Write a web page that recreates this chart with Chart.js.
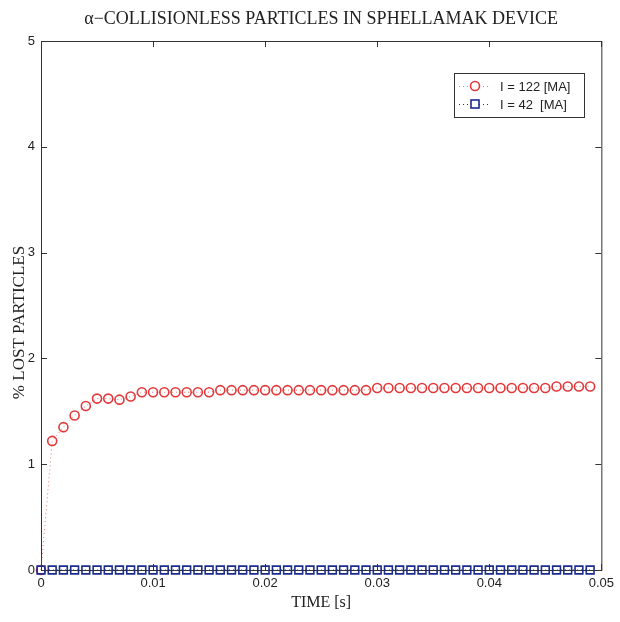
<!DOCTYPE html>
<html>
<head>
    <title>Collisionless particles in Sphellamak device</title>
    <script src="https://cdn.jsdelivr.net/npm/chart.js"></script>
    <style>
        body { margin: 0; background: #fff; }
    </style>
</head>
<body>
    <canvas id="myChart" width="620" height="622"></canvas>
    <script>
        // time samples [s]
        const timeValues = [
            0, 0.001, 0.002, 0.003, 0.004, 0.005, 0.006, 0.007, 0.008, 0.009,
            0.010, 0.011, 0.012, 0.013, 0.014, 0.015, 0.016, 0.017, 0.018, 0.019,
            0.020, 0.021, 0.022, 0.023, 0.024, 0.025, 0.026, 0.027, 0.028, 0.029,
            0.030, 0.031, 0.032, 0.033, 0.034, 0.035, 0.036, 0.037, 0.038, 0.039,
            0.040, 0.041, 0.042, 0.043, 0.044, 0.045, 0.046, 0.047, 0.048, 0.049
        ];
        // % lost particles, I = 122 MA
        const lost122 = [
            0, 1.22, 1.35, 1.46, 1.55, 1.62, 1.62, 1.61, 1.64, 1.68,
            1.68, 1.68, 1.68, 1.68, 1.68, 1.68, 1.70, 1.70, 1.70, 1.70,
            1.70, 1.70, 1.70, 1.70, 1.70, 1.70, 1.70, 1.70, 1.70, 1.70,
            1.72, 1.72, 1.72, 1.72, 1.72, 1.72, 1.72, 1.72, 1.72, 1.72,
            1.72, 1.72, 1.72, 1.72, 1.72, 1.72, 1.735, 1.735, 1.735, 1.735
        ];
        // % lost particles, I = 42 MA
        const lost42 = [
            0, 0, 0, 0, 0, 0, 0, 0, 0, 0,
            0, 0, 0, 0, 0, 0, 0, 0, 0, 0,
            0, 0, 0, 0, 0, 0, 0, 0, 0, 0,
            0, 0, 0, 0, 0, 0, 0, 0, 0, 0,
            0, 0, 0, 0, 0, 0, 0, 0, 0, 0
        ];
        const seriesLabels = ['I = 122 [MA]', 'I = 42  [MA]'];
        const xTickLabels = ['0', '0.01', '0.02', '0.03', '0.04', '0.05'];
        const yTickLabels = ['0', '1', '2', '3', '4', '5'];
        const yTitle = '% LOST PARTICLES';

        const RED = '#e2383a';
        const BLUE = '#1c2c8c';
        const tickFont = { family: 'Liberation Sans, Arial, sans-serif', size: 13 };
        const serif = 'Liberation Serif, Times New Roman, serif';

        // matlab-like box with inward ticks on all four sides
        const boxFrame = {
            id: 'boxFrame',
            beforeDatasetsDraw(chart) {
                const { ctx, chartArea: a, scales } = chart;
                ctx.save();
                ctx.strokeStyle = '#333';
                ctx.lineWidth = 1;
                ctx.strokeRect(a.left + 0.5, a.top + 0.5, a.right - a.left, a.bottom - a.top);
                ctx.beginPath();
                scales.x.ticks.forEach(t => {
                    const px = Math.round(scales.x.getPixelForValue(t.value)) + 0.5;
                    ctx.moveTo(px, a.bottom); ctx.lineTo(px, a.bottom - 6);
                    ctx.moveTo(px, a.top); ctx.lineTo(px, a.top + 6);
                });
                scales.y.ticks.forEach(t => {
                    const py = Math.round(scales.y.getPixelForValue(t.value)) + 0.5;
                    ctx.moveTo(a.left, py); ctx.lineTo(a.left + 6, py);
                    ctx.moveTo(a.right, py); ctx.lineTo(a.right - 6, py);
                });
                ctx.stroke();

                // y axis title, sits a little below the middle of the axis
                ctx.translate(20, (a.top + a.bottom) / 2 + 17);
                ctx.rotate(-Math.PI / 2);
                ctx.fillStyle = '#222';
                ctx.font = '17px ' + serif;
                ctx.textAlign = 'center';
                ctx.textBaseline = 'middle';
                ctx.fillText(yTitle, 0, 0);
                ctx.restore();
            }
        };

        // legend box in the upper right corner of the plot
        const boxLegend = {
            id: 'boxLegend',
            afterDraw(chart) {
                const { ctx } = chart;
                const x0 = 454, y0 = 73, w = 130, h = 44;
                ctx.save();
                ctx.fillStyle = '#fff';
                ctx.fillRect(x0, y0, w, h);
                ctx.strokeStyle = '#333';
                ctx.lineWidth = 1;
                ctx.strokeRect(x0 + 0.5, y0 + 0.5, w, h);
                chart.data.datasets.forEach((ds, i) => {
                    const y = y0 + 13 + i * 18;
                    ctx.strokeStyle = ds.borderColor;
                    ctx.setLineDash([1, 3]);
                    ctx.beginPath();
                    ctx.moveTo(x0 + 5, y + 0.5);
                    ctx.lineTo(x0 + 37, y + 0.5);
                    ctx.stroke();
                    ctx.setLineDash([]);
                    ctx.fillStyle = '#fff';
                    ctx.lineWidth = 1.6;
                    ctx.strokeStyle = ds.pointBorderColor;
                    if (ds.pointStyle === 'rect') {
                        ctx.fillRect(x0 + 17, y - 4, 8, 8);
                        ctx.strokeRect(x0 + 17, y - 4, 8, 8);
                    } else {
                        ctx.beginPath();
                        ctx.arc(x0 + 21, y, 4.5, 0, Math.PI * 2);
                        ctx.fill();
                        ctx.stroke();
                    }
                    ctx.lineWidth = 1;
                    ctx.fillStyle = '#222';
                    ctx.font = '13px Liberation Sans, Arial, sans-serif';
                    ctx.textBaseline = 'middle';
                    ctx.fillText(ds.label, x0 + 46, y + 1);
                });
                ctx.restore();
            }
        };

        const ctx = document.getElementById('myChart').getContext('2d');
        const myChart = new Chart(ctx, {
            type: 'line',
            data: {
                datasets: [{
                    label: seriesLabels[0],
                    data: timeValues.map((t, i) => ({ x: t, y: lost122[i] })),
                    borderColor: 'rgba(226, 56, 58, 0.7)',
                    borderWidth: 1,
                    borderDash: [1, 3],
                    pointStyle: 'circle',
                    pointRadius: 4.5,
                    pointBorderWidth: 1.6,
                    pointBorderColor: RED,
                    pointBackgroundColor: 'rgba(255,255,255,0)',
                    clip: false,
                    order: 2
                }, {
                    label: seriesLabels[1],
                    data: timeValues.map((t, i) => ({ x: t, y: lost42[i] })),
                    borderColor: BLUE,
                    borderWidth: 1,
                    borderDash: [1, 3],
                    pointStyle: 'rect',
                    pointRadius: 5.5,
                    pointBorderWidth: 1.6,
                    pointBorderColor: BLUE,
                    pointBackgroundColor: 'rgba(255,255,255,0)',
                    clip: false,
                    order: 1
                }]
            },
            options: {
                responsive: false,
                animation: false,
                layout: { padding: { left: 0, right: 17, top: 0, bottom: 0 } },
                plugins: {
                    legend: { display: false },
                    tooltip: { enabled: false },
                    title: {
                        display: true,
                        fullSize: false,
                        text: 'α−COLLISIONLESS PARTICLES IN SPHELLAMAK DEVICE',
                        color: '#222',
                        font: { family: serif, size: 18, weight: 'normal' },
                        padding: { top: 8, bottom: 11.4 }
                    }
                },
                scales: {
                    x: {
                        type: 'linear',
                        min: 0,
                        max: 0.05,
                        grid: { drawOnChartArea: false, drawTicks: false },
                        border: { display: false },
                        ticks: {
                            stepSize: 0.01,
                            autoSkip: false,
                            maxRotation: 0,
                            padding: 6,
                            color: '#222',
                            font: tickFont,
                            callback: (v, i) => xTickLabels[i]
                        },
                        title: {
                            display: true,
                            text: 'TIME [s]',
                            color: '#222',
                            font: { family: serif, size: 16 },
                            padding: { top: 0, bottom: 10 }
                        },
                        afterFit: scale => { scale.height = 52; }
                    },
                    y: {
                        min: 0,
                        max: 5,
                        grid: { drawOnChartArea: false, drawTicks: false },
                        border: { display: false },
                        ticks: {
                            stepSize: 1,
                            padding: 6,
                            color: '#222',
                            font: tickFont,
                            callback: (v, i) => yTickLabels[i]
                        },
                        afterFit: scale => { scale.width = 41; }
                    }
                }
            },
            plugins: [boxFrame, boxLegend]
        });
    </script>
</body>
</html>
